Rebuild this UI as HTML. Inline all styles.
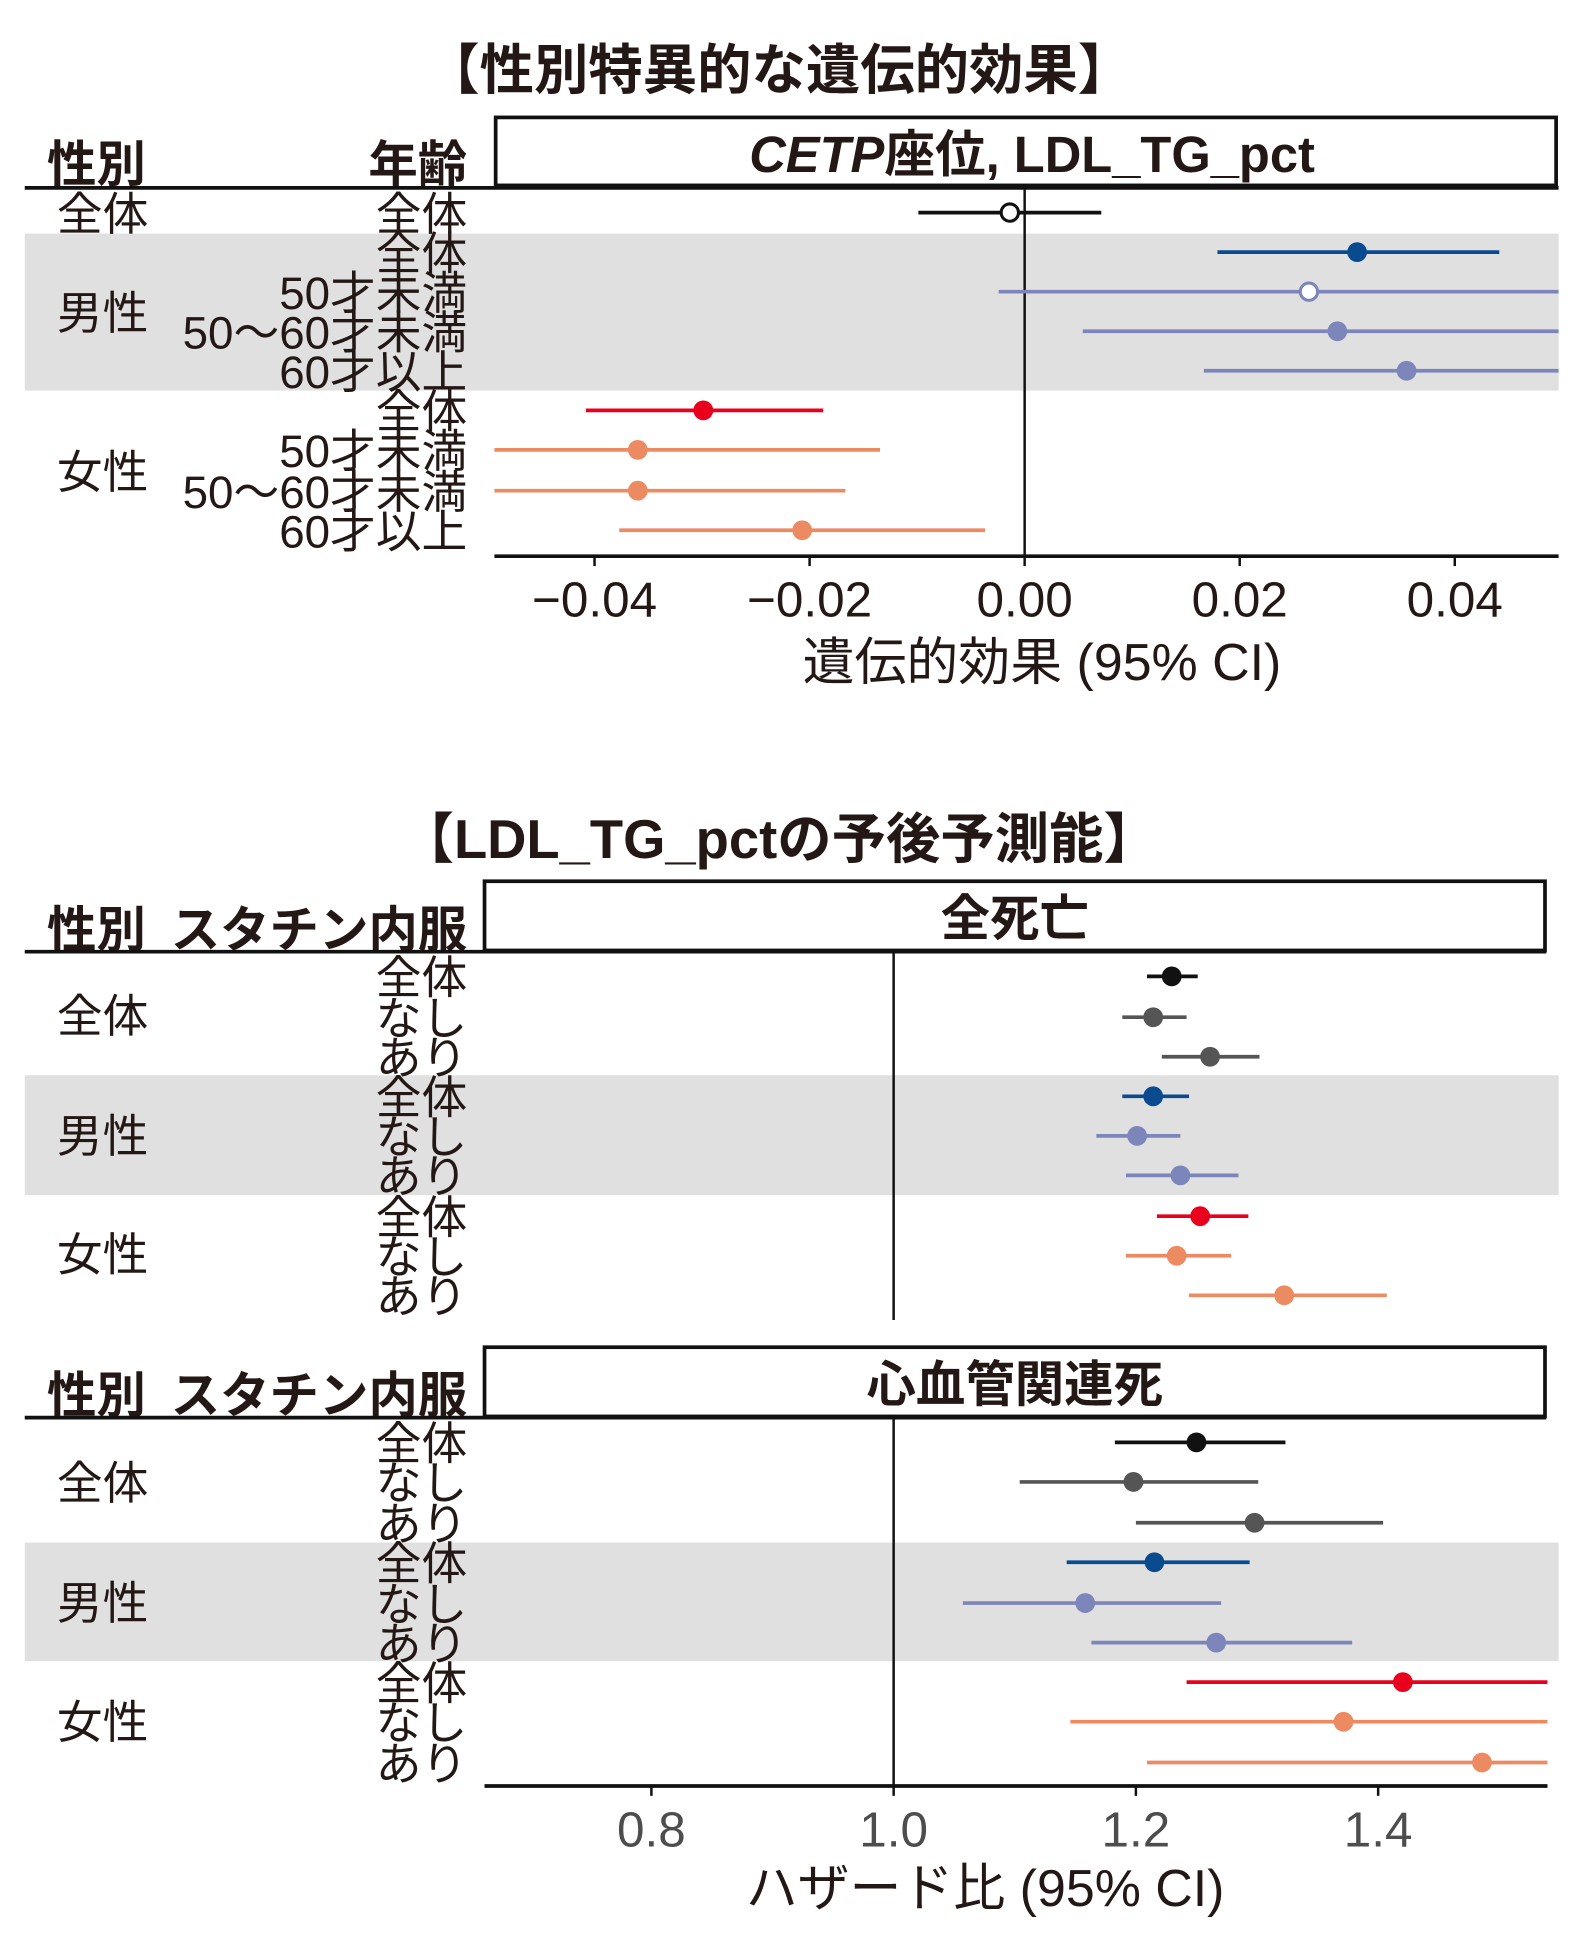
<!DOCTYPE html>
<html><head><meta charset="utf-8"><style>
html,body{margin:0;padding:0;background:#fff;}
svg{display:block;}
text{font-family:"Liberation Sans","Noto Sans CJK JP",sans-serif;fill:#231815;}
.b{font-weight:bold;}
</style></head><body>
<svg width="1592" height="1938" viewBox="0 0 1288 1568" xmlns="http://www.w3.org/2000/svg">
<!-- TOP -->
<text x="630" y="72" font-size="44" class="b" text-anchor="middle">【性別特異的な遺伝的効果】</text>
<rect x="401" y="95" width="858" height="55" fill="none" stroke="#111" stroke-width="3"/>
<text x="835" y="139" font-size="41" text-anchor="middle" style="font-weight:600"><tspan font-style="italic">CETP</tspan>座位, LDL_TG_pct</text>
<text x="38" y="147" font-size="40" class="b">性別</text>
<text x="378" y="147" font-size="40" class="b" text-anchor="end">年齢</text>
<rect x="20" y="189" width="1241" height="127" fill="#e0e0e0"/>
<line x1="20" y1="152" x2="1261" y2="152" stroke="#111" stroke-width="3"/>
<line x1="829" y1="152" x2="829" y2="450" stroke="#111" stroke-width="2"/>
<line x1="400" y1="450" x2="1261" y2="450" stroke="#111" stroke-width="3"/>
<g stroke="#111" stroke-width="2">
<line x1="481" y1="450" x2="481" y2="458"/><line x1="655" y1="450" x2="655" y2="458"/><line x1="829" y1="450" x2="829" y2="458"/><line x1="1003" y1="450" x2="1003" y2="458"/><line x1="1177" y1="450" x2="1177" y2="458"/>
</g>
<g font-size="40" text-anchor="middle">
<text x="481" y="499">−0.04</text><text x="655" y="499">−0.02</text><text x="829" y="499">0.00</text><text x="1003" y="499">0.02</text><text x="1177" y="499">0.04</text>
</g>
<text x="843" y="550" font-size="42" text-anchor="middle">遺伝的効果 (95% CI)</text>
<g font-size="37">
<text x="46" y="186">全体</text><text x="46" y="266">男性</text><text x="46" y="395">女性</text>
</g>
<g font-size="37" text-anchor="end">
<text x="378" y="186">全体</text><text x="378" y="218">全体</text><text x="378" y="250">50才未満</text><text x="378" y="282">50〜60才未満</text><text x="378" y="314">60才以上</text>
<text x="378" y="346">全体</text><text x="378" y="378">50才未満</text><text x="378" y="411">50〜60才未満</text><text x="378" y="443">60才以上</text>
</g>
<g stroke-width="3">
<line x1="743" y1="172" x2="891" y2="172" stroke="#111"/><circle cx="817" cy="172" r="7" fill="#fff" stroke="#111" stroke-width="2.5"/>
<line x1="985" y1="204" x2="1213" y2="204" stroke="#0a4a8f"/><circle cx="1098" cy="204" r="8" fill="#0a4a8f"/>
<line x1="808" y1="236" x2="1261" y2="236" stroke="#7c86ba"/><circle cx="1059" cy="236" r="7" fill="#fff" stroke="#7c86ba" stroke-width="2.5"/>
<line x1="876" y1="268" x2="1261" y2="268" stroke="#7c86ba"/><circle cx="1082" cy="268" r="8" fill="#7c86ba"/>
<line x1="974" y1="300" x2="1261" y2="300" stroke="#7c86ba"/><circle cx="1138" cy="300" r="8" fill="#7c86ba"/>
<line x1="474" y1="332" x2="666" y2="332" stroke="#e8001c"/><circle cx="569" cy="332" r="8" fill="#e8001c"/>
<line x1="400" y1="364" x2="712" y2="364" stroke="#ec8a62"/><circle cx="516" cy="364" r="8" fill="#ec8a62"/>
<line x1="400" y1="397" x2="684" y2="397" stroke="#ec8a62"/><circle cx="516" cy="397" r="8" fill="#ec8a62"/>
<line x1="501" y1="429" x2="797" y2="429" stroke="#ec8a62"/><circle cx="649" cy="429" r="8" fill="#ec8a62"/>
</g>

<!-- BOTTOM -->
<text x="630" y="694" font-size="44" class="b" text-anchor="middle">【LDL_TG_pctの予後予測能】</text>
<rect x="392" y="713" width="858" height="56" fill="none" stroke="#111" stroke-width="3"/>
<text x="821" y="757" font-size="40" class="b" text-anchor="middle">全死亡</text>
<text x="38" y="766" font-size="40" class="b">性別</text>
<text x="378" y="766" font-size="40" class="b" text-anchor="end">スタチン内服</text>
<rect x="20" y="870" width="1241" height="97" fill="#e0e0e0"/>
<line x1="20" y1="770" x2="1251" y2="770" stroke="#111" stroke-width="3"/>
<line x1="723" y1="770" x2="723" y2="1068" stroke="#111" stroke-width="2"/>
<g font-size="37"><text x="46" y="835">全体</text><text x="46" y="932">男性</text><text x="46" y="1028">女性</text></g>
<g font-size="37" text-anchor="end">
<text x="378" y="804">全体</text><text x="378" y="837">なし</text><text x="378" y="869">あり</text>
<text x="378" y="901">全体</text><text x="378" y="933">なし</text><text x="378" y="965">あり</text>
<text x="378" y="998">全体</text><text x="378" y="1030">なし</text><text x="378" y="1062">あり</text>
</g>
<g stroke-width="3">
<line x1="928" y1="790" x2="969" y2="790" stroke="#111"/><circle cx="948" cy="790" r="8" fill="#111"/>
<line x1="908" y1="823" x2="960" y2="823" stroke="#555"/><circle cx="933" cy="823" r="8" fill="#555"/>
<line x1="940" y1="855" x2="1019" y2="855" stroke="#555"/><circle cx="979" cy="855" r="8" fill="#555"/>
<line x1="908" y1="887" x2="962" y2="887" stroke="#0a4a8f"/><circle cx="933" cy="887" r="8" fill="#0a4a8f"/>
<line x1="887" y1="919" x2="955" y2="919" stroke="#7c86ba"/><circle cx="920" cy="919" r="8" fill="#7c86ba"/>
<line x1="911" y1="951" x2="1002" y2="951" stroke="#7c86ba"/><circle cx="955" cy="951" r="8" fill="#7c86ba"/>
<line x1="936" y1="984" x2="1010" y2="984" stroke="#e8001c"/><circle cx="971" cy="984" r="8" fill="#e8001c"/>
<line x1="911" y1="1016" x2="996" y2="1016" stroke="#ec8a62"/><circle cx="952" cy="1016" r="8" fill="#ec8a62"/>
<line x1="962" y1="1048" x2="1122" y2="1048" stroke="#ec8a62"/><circle cx="1039" cy="1048" r="8" fill="#ec8a62"/>
</g>
<rect x="392" y="1090" width="858" height="56" fill="none" stroke="#111" stroke-width="3"/>
<text x="821" y="1134" font-size="40" class="b" text-anchor="middle">心血管関連死</text>
<text x="38" y="1143" font-size="40" class="b">性別</text>
<text x="378" y="1143" font-size="40" class="b" text-anchor="end">スタチン内服</text>
<rect x="20" y="1248" width="1241" height="96" fill="#e0e0e0"/>
<line x1="20" y1="1147" x2="1251" y2="1147" stroke="#111" stroke-width="3"/>
<line x1="723" y1="1147" x2="723" y2="1445" stroke="#111" stroke-width="2"/>
<line x1="392" y1="1445" x2="1252" y2="1445" stroke="#111" stroke-width="3"/>
<g stroke="#111" stroke-width="2">
<line x1="527" y1="1445" x2="527" y2="1453"/><line x1="723" y1="1445" x2="723" y2="1453"/><line x1="919" y1="1445" x2="919" y2="1453"/><line x1="1115" y1="1445" x2="1115" y2="1453"/>
</g>
<g font-size="40" text-anchor="middle">
<text x="527" y="1494" style="fill:#4d4d4d">0.8</text><text x="723" y="1494" style="fill:#4d4d4d">1.0</text><text x="919" y="1494" style="fill:#4d4d4d">1.2</text><text x="1115" y="1494" style="fill:#4d4d4d">1.4</text>
</g>
<text x="797" y="1542" font-size="42" text-anchor="middle">ハザード比 (95% CI)</text>
<g font-size="37"><text x="46" y="1213">全体</text><text x="46" y="1310">男性</text><text x="46" y="1406">女性</text></g>
<g font-size="37" text-anchor="end">
<text x="378" y="1181">全体</text><text x="378" y="1213">なし</text><text x="378" y="1246">あり</text>
<text x="378" y="1278">全体</text><text x="378" y="1311">なし</text><text x="378" y="1343">あり</text>
<text x="378" y="1375">全体</text><text x="378" y="1407">なし</text><text x="378" y="1440">あり</text>
</g>
<g stroke-width="3">
<line x1="902" y1="1167" x2="1040" y2="1167" stroke="#111"/><circle cx="968" cy="1167" r="8" fill="#111"/>
<line x1="825" y1="1199" x2="1018" y2="1199" stroke="#555"/><circle cx="917" cy="1199" r="8" fill="#555"/>
<line x1="919" y1="1232" x2="1119" y2="1232" stroke="#555"/><circle cx="1015" cy="1232" r="8" fill="#555"/>
<line x1="863" y1="1264" x2="1011" y2="1264" stroke="#0a4a8f"/><circle cx="934" cy="1264" r="8" fill="#0a4a8f"/>
<line x1="779" y1="1297" x2="988" y2="1297" stroke="#7c86ba"/><circle cx="878" cy="1297" r="8" fill="#7c86ba"/>
<line x1="883" y1="1329" x2="1094" y2="1329" stroke="#7c86ba"/><circle cx="984" cy="1329" r="8" fill="#7c86ba"/>
<line x1="960" y1="1361" x2="1252" y2="1361" stroke="#e8001c"/><circle cx="1135" cy="1361" r="8" fill="#e8001c"/>
<line x1="866" y1="1393" x2="1252" y2="1393" stroke="#ec8a62"/><circle cx="1087" cy="1393" r="8" fill="#ec8a62"/>
<line x1="928" y1="1426" x2="1252" y2="1426" stroke="#ec8a62"/><circle cx="1199" cy="1426" r="8" fill="#ec8a62"/>
</g>
</svg>
</body></html>
